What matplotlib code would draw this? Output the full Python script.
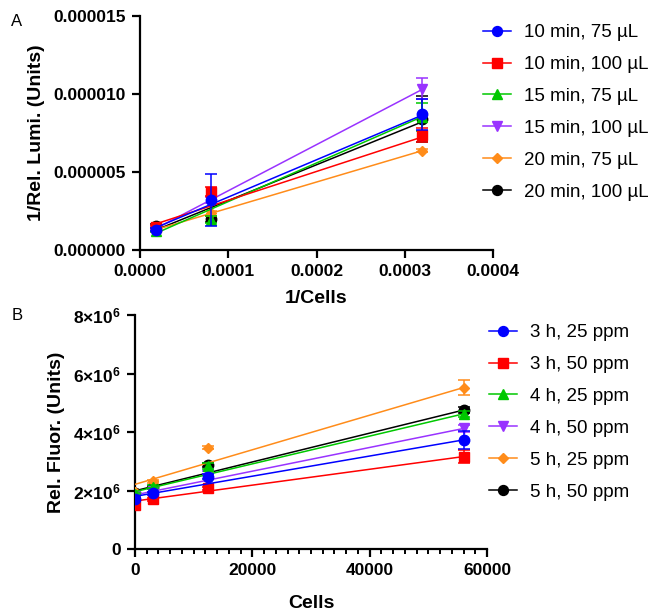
import matplotlib
matplotlib.use("Agg")
import matplotlib.pyplot as plt
import numpy as np
from matplotlib.ticker import FixedLocator, FuncFormatter, MultipleLocator

plt.rcParams['font.family'] = ['Liberation Sans', 'DejaVu Sans']
plt.rcParams['mathtext.fontset'] = 'custom'
plt.rcParams['mathtext.rm'] = 'Liberation Sans:bold'
plt.rcParams['mathtext.bf'] = 'Liberation Sans:bold'

# ---------------- Panel A data ----------------
a_x = [1/56000, 1/12500, 1/3125]
a_labels = ["10 min, 75 µL", "10 min, 100 µL", "15 min, 75 µL",
            "15 min, 100 µL", "20 min, 75 µL", "20 min, 100 µL"]
a_y = [
    [1.30e-6, 3.22e-6, 8.70e-6],
    [1.50e-6, 3.75e-6, 7.38e-6],
    [1.20e-6, 1.95e-6, 8.50e-6],
    [1.40e-6, 3.20e-6, 1.035e-5],
    [1.40e-6, 2.35e-6, 6.37e-6],
    [1.55e-6, 1.97e-6, 8.40e-6],
]
a_sd = [
    [0.10e-6, 1.65e-6, 1.00e-6],
    [0.10e-6, 0.30e-6, 0.45e-6],
    [0.05e-6, 0.25e-6, 0.90e-6],
    [0.05e-6, 0.20e-6, 0.70e-6],
    [0.05e-6, 0.15e-6, 0.10e-6],
    [0.10e-6, 0.20e-6, 1.45e-6],
]
a_fit_start = [1.43e-6, 1.67e-6, 1.07e-6, 1.37e-6, 1.30e-6, 1.28e-6]
a_fit_end = [8.65e-6, 7.25e-6, 8.55e-6, 1.03e-5, 6.37e-6, 8.22e-6]

# ---------------- Panel B data ----------------
b_x = [0, 3125, 12500, 56000]
b_labels = ["3 h, 25 ppm", "3 h, 50 ppm", "4 h, 25 ppm",
            "4 h, 50 ppm", "5 h, 25 ppm", "5 h, 50 ppm"]
b_y = [
    [1.70e6, 1.90e6, 2.47e6, 3.73e6],
    [1.50e6, 1.70e6, 2.07e6, 3.16e6],
    [1.88e6, 2.13e6, 2.85e6, 4.62e6],
    [1.80e6, 2.00e6, 2.60e6, 4.12e6],
    [1.95e6, 2.32e6, 3.46e6, 5.52e6],
    [1.90e6, 2.11e6, 2.87e6, 4.75e6],
]
b_sd = [
    [0.05e6, 0.05e6, 0.08e6, 0.32e6],
    [0.05e6, 0.05e6, 0.05e6, 0.22e6],
    [0.05e6, 0.05e6, 0.10e6, 0.10e6],
    [0.05e6, 0.05e6, 0.05e6, 0.12e6],
    [0.05e6, 0.05e6, 0.05e6, 0.25e6],
    [0.05e6, 0.05e6, 0.08e6, 0.10e6],
]
b_fit_start = [1.80e6, 1.64e6, 1.96e6, 1.85e6, 2.21e6, 1.99e6]
b_fit_end = [3.73e6, 3.16e6, 4.62e6, 4.12e6, 5.52e6, 4.75e6]

colors = ['#0000FF', '#FF0000', '#00C800', '#9933FF', '#FF8C1A', '#000000']
markers = ['o', 's', '^', 'v', 'D', 'o']
msizes = [7.5, 7, 7.5, 7.5, 5, 7.5]

fig = plt.figure(figsize=(6.52, 6.14), dpi=100)
W, H = 652, 614

def axes_px(l, r, top, bottom):
    return fig.add_axes([l / W, 1 - bottom / H, (r - l) / W, (bottom - top) / H])

axA = axes_px(140, 493, 16, 250)
axB = axes_px(135, 487, 315, 549)

def style(ax):
    for s in ['top', 'right']:
        ax.spines[s].set_visible(False)
    for s in ['left', 'bottom']:
        ax.spines[s].set_linewidth(1.6)
    ax.tick_params(which='major', direction='out', length=6, width=1.6,
                   labelsize=12.5, pad=4)
    ax.tick_params(which='minor', direction='out', length=3.5, width=1.4)
    for lab in ax.get_xticklabels() + ax.get_yticklabels():
        lab.set_fontweight('bold')

def draw(ax, xs, ys, sds, fs, fe, fx0, fx1, labels):
    n = len(ys)
    handles = []
    for i in range(n):
        z = 10 + (n - i) * 2
        ax.plot([fx0, fx1], [fs[i], fe[i]], color=colors[i], lw=1.1, zorder=z - 1)
        ax.errorbar(xs, ys[i], yerr=sds[i], fmt='none', ecolor=colors[i],
                    elinewidth=1.1, capsize=4, capthick=1.1, zorder=z)
        ax.plot(xs, ys[i], linestyle='none', marker=markers[i], color=colors[i],
                markersize=msizes[i], zorder=z + 0.5)
        h, = ax.plot([], [], color=colors[i], lw=1.1, marker=markers[i],
                     markersize=msizes[i] * 0.95)
        handles.append(h)
    return handles

hA = draw(axA, a_x, a_y, a_sd, a_fit_start, a_fit_end, a_x[0], a_x[-1], a_labels)
hB = draw(axB, b_x, b_y, b_sd, b_fit_start, b_fit_end, 0, b_x[-1], b_labels)

axA.set_xlim(0, 0.0004)
axA.set_ylim(0, 0.000015)
axA.xaxis.set_major_locator(FixedLocator([0, 0.0001, 0.0002, 0.0003, 0.0004]))
axA.yaxis.set_major_locator(FixedLocator([0, 0.000005, 0.00001, 0.000015]))
axA.xaxis.set_major_formatter(FuncFormatter(lambda v, p: f"{v:.4f}"))
axA.yaxis.set_major_formatter(FuncFormatter(lambda v, p: f"{v:.6f}"))
style(axA)
axA.set_xlabel("1/Cells", fontsize=14, fontweight='bold', labelpad=8)
axA.set_ylabel("1/Rel. Lumi. (Units)", fontsize=14, fontweight='bold', labelpad=6)

axB.set_xlim(0, 60000)
axB.set_ylim(0, 8e6)
axB.xaxis.set_major_locator(FixedLocator([0, 20000, 40000, 60000]))
axB.xaxis.set_minor_locator(MultipleLocator(2000))
axB.yaxis.set_major_locator(FixedLocator([0, 2e6, 4e6, 6e6, 8e6]))

def sci(v, p):
    if v == 0:
        return "0"
    return r"$\mathbf{%d{\times}10^{6}}$" % round(v / 1e6)

axB.xaxis.set_major_formatter(FuncFormatter(lambda v, p: f"{int(v)}"))
axB.yaxis.set_major_formatter(FuncFormatter(sci))
style(axB)
axB.set_xlabel("Cells", fontsize=14, fontweight='bold', labelpad=12)
axB.set_ylabel("Rel. Fluor. (Units)", fontsize=14, fontweight='bold', labelpad=6)

legkw = dict(frameon=False, fontsize=13.5, handlelength=1.5, handletextpad=0.7,
             labelspacing=0.79, borderaxespad=0, borderpad=0, loc='upper left')
fig.legend(hA, a_labels, bbox_to_anchor=(483 / W, 1 - 24 / H), **legkw)
fig.legend(hB, b_labels, bbox_to_anchor=(489 / W, 1 - 324 / H), **legkw)

fig.text(17 / W, 1 - 22 / H, "A", fontsize=12, va='center', ha='center')
fig.text(17 / W, 1 - 315 / H, "B", fontsize=12, va='center', ha='center')

fig.savefig("out.png", dpi=100)
